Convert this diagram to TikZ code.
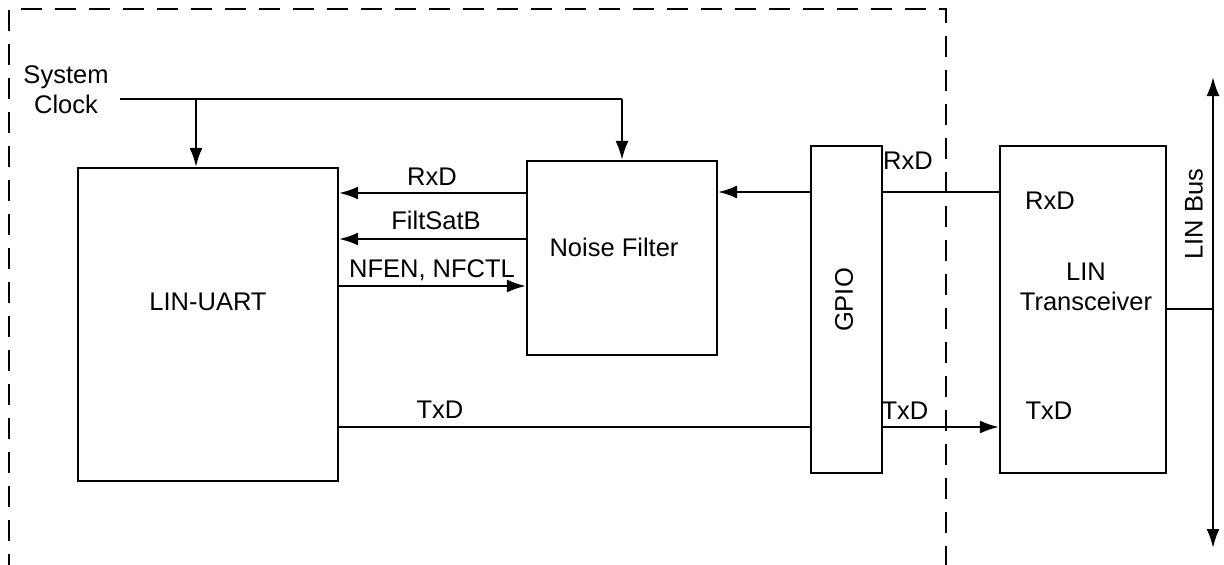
\documentclass[tikz,border=0pt]{standalone}
\usepackage{fontspec}
\setmainfont{Liberation Sans}
\usetikzlibrary{arrows.meta}
\begin{document}
\begin{tikzpicture}[x=1pt,y=-1pt,
  every node/.style={font=\fontsize{25.5}{30}\selectfont, inner sep=0pt},
  blk/.style={draw, line width=2.2pt, rectangle},
  wire/.style={line width=2.2pt},
  arr/.style={line width=2.2pt, -{Latex[length=19pt,width=13pt]}},
  barr/.style={line width=2.2pt, {Latex[length=19pt,width=13pt]}-{Latex[length=19pt,width=13pt]}},
  lbl/.style={anchor=center}]
\useasboundingbox (0,0) rectangle (1224,565);
% dashed boundary
\draw[line width=2.2pt, dash pattern=on 21pt off 13pt] (9,575) -- (9,9) -- (946,9) -- (946,575);
% blocks
\node[blk, minimum width=260pt, minimum height=313pt] (uart) at (208,324.5) {};
\node[blk, minimum width=190pt, minimum height=194pt] (nf) at (622,258) {};
\node[blk, minimum width=71pt, minimum height=327pt] (gpio) at (846.5,309.5) {};
\node[blk, minimum width=166pt, minimum height=327pt] (xcvr) at (1083,309.5) {};
% block texts
\node[lbl] (tuart) at (208,302) {LIN-UART};
\node[lbl] (tnf) at (614,247) {Noise Filter};
\node[lbl, rotate=90] (tgpio) at (844,300) {GPIO};
\node[lbl, align=center] (txcvr) at (1086,287) {LIN\\Transceiver};
\node[lbl] (trx) at (1050,201) {RxD};
\node[lbl] (ttx) at (1049,411) {TxD};
% system clock
\node[lbl, align=center] (clk) at (66,90) {System\\Clock};
\coordinate (c0) at (120,99);
\coordinate (c1) at (196,99);
\coordinate (c2) at (622,99);
\draw[wire] (c0) -- (c2);
\draw[arr] (c1) -- (c1 |- uart.north);
\draw[arr] (c2) -- (c2 |- nf.north);
% noise filter <-> uart
\draw[arr] (nf.west |- 0,193) -- (uart.east |- 0,193);
\node[lbl] (lrx) at (432,177) {RxD};
\draw[arr] (nf.west |- 0,239) -- (uart.east |- 0,239);
\node[lbl] (lfs) at (436,220) {FiltSatB};
\draw[arr] (uart.east |- 0,286) -- (nf.west |- 0,286);
\node[lbl] (lnf) at (432,270) {NFEN, NFCTL};
% RxD path
\draw[wire] (xcvr.west |- 0,192) -- (gpio.east |- 0,192);
\draw[arr] (gpio.west |- 0,192) -- (nf.east |- 0,192);
\node[lbl] (lrx2) at (908,161) {RxD};
% TxD path
\draw[wire] (uart.east |- 0,427) -- (gpio.west |- 0,427);
\node[lbl] (ltx) at (440,410) {TxD};
\draw[arr] (gpio.east |- 0,427) -- (xcvr.west |- 0,427);
\node[lbl] (ltx2) at (905,411) {TxD};
% LIN bus
\coordinate (bt) at (1213,77);
\coordinate (bb) at (1213,548);
\coordinate (bm) at (1213,309);
\draw[barr] (bb) -- (bt);
\draw[wire] (xcvr.east |- bm) -- (bm);
\node[lbl, rotate=90] (lbus) at (1194,214) {LIN Bus};
\end{tikzpicture}
\end{document}
